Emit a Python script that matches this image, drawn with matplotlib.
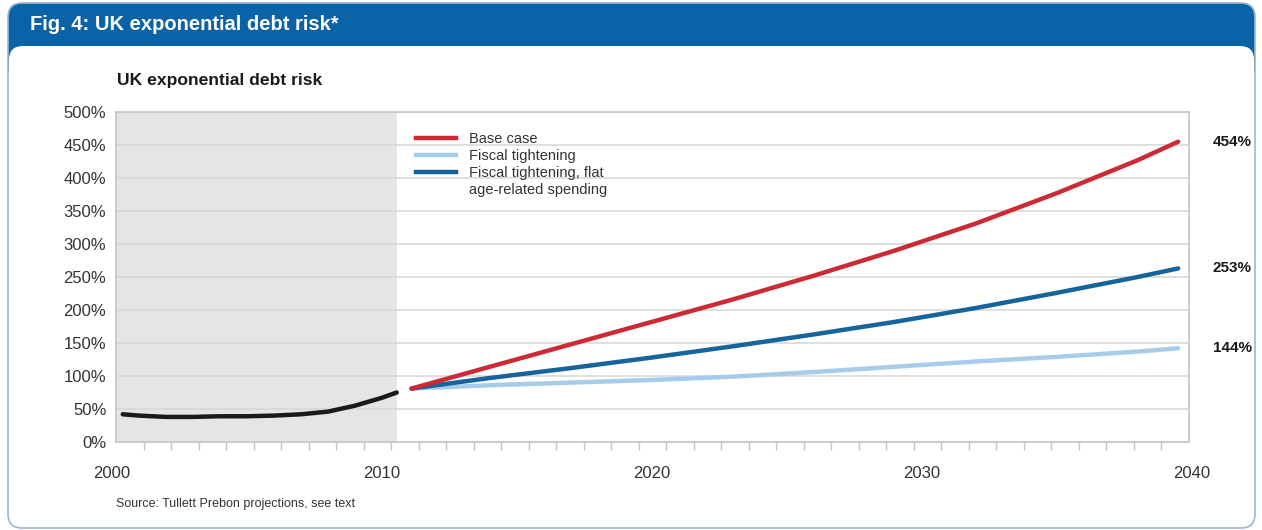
import numpy as np
import matplotlib.pyplot as plt
from matplotlib.patches import FancyBboxPatch
from matplotlib.lines import Line2D

plt.rcParams['font.family'] = ['Liberation Sans', 'DejaVu Sans']

# --- Data (% of GDP) ---
hist_years = [2000.4, 2001, 2002, 2003, 2004, 2005, 2006, 2007, 2008, 2009, 2010, 2010.55]
hist_debt = [42, 40, 38, 38, 39, 39, 40, 42, 46, 55, 67, 75]

proj_years = [2011.1, 2014, 2017, 2020, 2023, 2026, 2029, 2032, 2035, 2038, 2039.5]
base_case = [81, 114, 148, 182, 216, 252, 290, 331, 377, 427, 455]
fiscal = [81, 86, 90, 94, 99, 106, 114, 122, 129, 137, 142]
fiscal_flat = [81, 97, 112, 128, 145, 163, 182, 203, 226, 250, 263]

series_names = ['Base case', 'Fiscal tightening', 'Fiscal tightening, flat']
extra_legend_line = 'age-related spending'
end_labels = ['454%', '253%', '144%']
year_labels = [2000, 2010, 2020, 2030, 2040]
y_ticks = list(range(0, 501, 50))
history_end = 2010.55

RED = '#cc2b36'
LIGHT = '#a7cbeb'
DARK = '#15649c'

W, H = 1262, 530
fig = plt.figure(figsize=(W / 100, H / 100), dpi=100)

# --- Frame / header decoration ---
bg = fig.add_axes([0, 0, 1, 1], zorder=-5)
bg.set_xlim(0, W)
bg.set_ylim(H, 0)
bg.axis('off')
bg.add_patch(FancyBboxPatch((8, 3), 1247, 80, boxstyle='round,pad=0,rounding_size=16',
                            facecolor='#0b63a7', edgecolor='none'))
bg.add_patch(FancyBboxPatch((9, 46), 1245, 481, boxstyle='round,pad=0,rounding_size=14',
                            facecolor='white', edgecolor='none'))
bg.add_patch(FancyBboxPatch((8, 3), 1247, 525, boxstyle='round,pad=0,rounding_size=14',
                            facecolor='none', edgecolor='#9db5d2', linewidth=1.2))
bg.text(30, 25, 'Fig. 4: UK exponential debt risk*', color='white', fontsize=14.5,
        fontweight='bold', va='center', ha='left')
bg.text(117, 80, 'UK exponential debt risk', color='#1a1a1a', fontsize=12.6,
        fontweight='bold', va='center', ha='left')
bg.text(116, 504, 'Source: Tullett Prebon projections, see text', color='#333333',
        fontsize=9, va='center', ha='left')

# --- Main chart ---
ax = fig.add_axes([116 / W, 1 - 442 / H, 1073 / W, 330 / H])
x_lo, x_hi = 2000.15, 2039.9
ax.set_xlim(x_lo, x_hi)
ax.set_ylim(0, 500)

ax.axvspan(x_lo, history_end, color='#e5e5e7', zorder=0.2, lw=0)
ax.set_axisbelow(True)
ax.yaxis.grid(True, color='#d6d6d6', linewidth=1.1)

ax.plot(hist_years, hist_debt, color='#1a1a1a', lw=3.2, solid_capstyle='round', zorder=3)
ax.plot(proj_years, fiscal, color=LIGHT, lw=3.2, solid_capstyle='round', zorder=3)
ax.plot(proj_years, fiscal_flat, color=DARK, lw=3.2, solid_capstyle='round', zorder=4)
ax.plot(proj_years, base_case, color=RED, lw=3.2, solid_capstyle='round', zorder=5)

ax.set_yticks(y_ticks)
ax.set_yticklabels([f'{v}%' for v in y_ticks], fontsize=12, color='#333333')
ax.tick_params(axis='y', length=0, pad=7)

ax.set_xticks([])
ax.set_xticks(np.linspace(x_lo, x_hi, 40)[1:-1], minor=True)
ax.tick_params(axis='x', which='minor', length=6, color='#c4c4c4', width=1, direction='out')
ax.tick_params(axis='x', which='minor', labelbottom=False)
for yr in year_labels:
    ax.text(yr, -0.094, str(yr), transform=ax.get_xaxis_transform(), ha='center',
            va='center', fontsize=12, color='#333333')

for sp in ax.spines.values():
    sp.set_color('#c8c8c8')
    sp.set_linewidth(1.3)

# End-of-line value labels
for lab, vals in zip(end_labels, [base_case, fiscal_flat, fiscal]):
    ax.text(1.022, vals[-1], lab, transform=ax.get_yaxis_transform(), ha='left',
            va='center', fontsize=11, fontweight='bold', color='#1a1a1a')

handles = [Line2D([], [], color=c, lw=3.2) for c in (RED, LIGHT, DARK)]
handles.append(Line2D([], [], color='none'))
ax.legend(handles, series_names + [extra_legend_line], loc='upper left',
          bbox_to_anchor=(0.2796, 0.94), frameon=False, fontsize=10.5,
          handlelength=2.75, handletextpad=0.9, labelspacing=0.22,
          borderaxespad=0, borderpad=0, labelcolor='#333333')

fig.savefig('out.png', dpi=100)
